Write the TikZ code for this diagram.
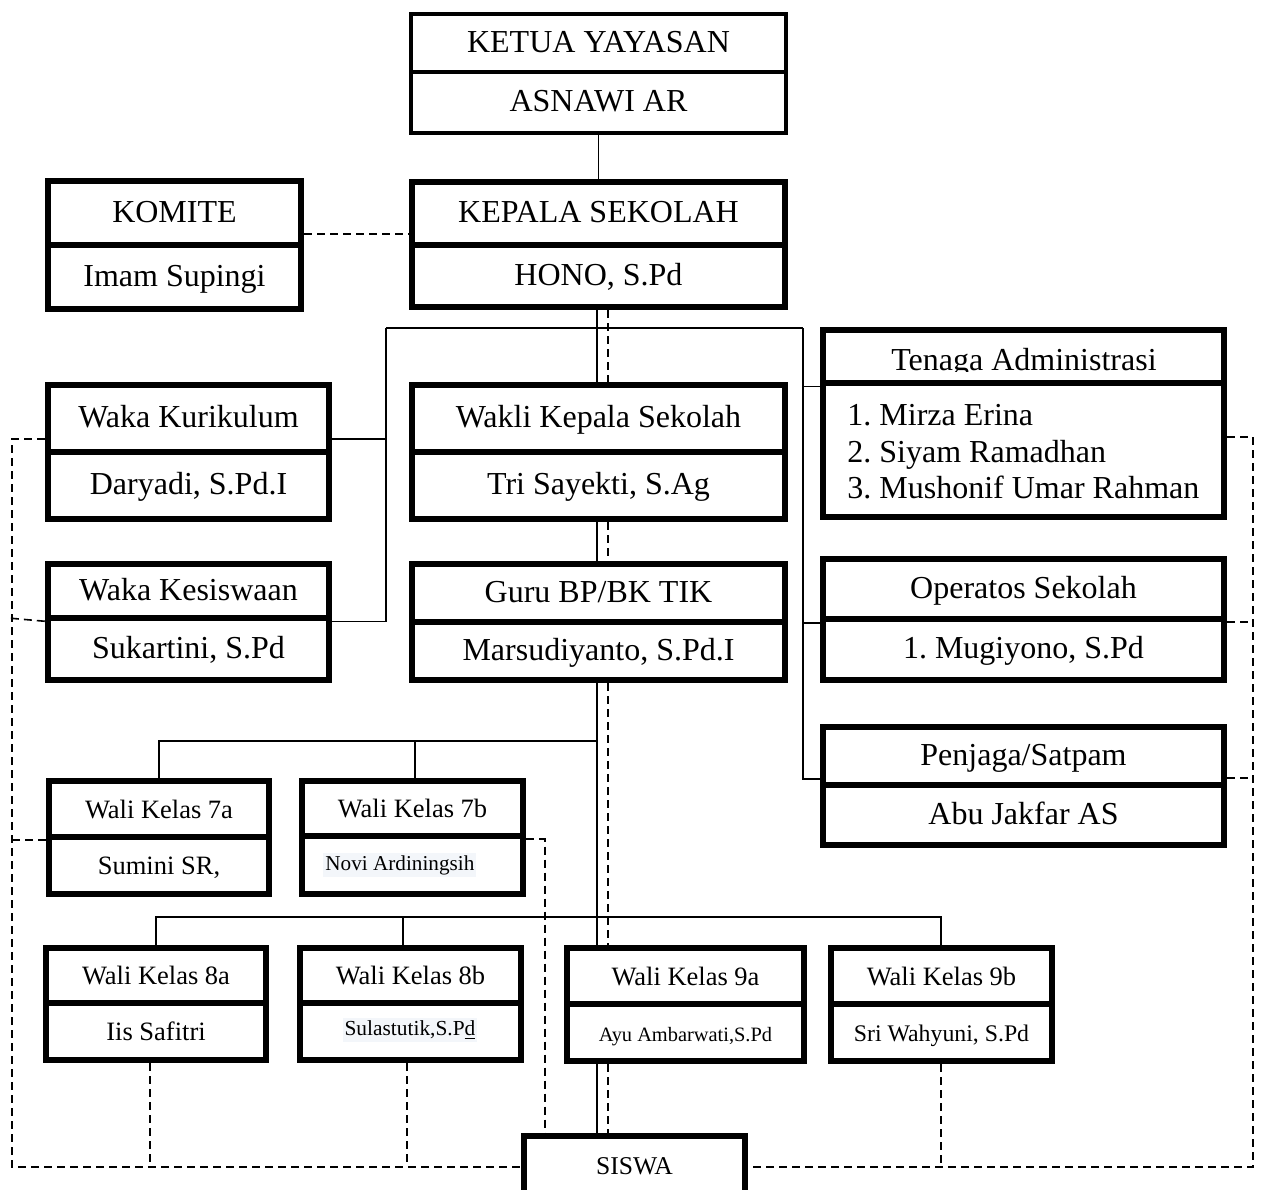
\documentclass[tikz,border=0pt]{standalone}
\usepackage{fontspec}
\setmainfont{Liberation Serif}
\usetikzlibrary{calc}
\frenchspacing
\newcommand\fsz[1]{\fontsize{#1}{#1}\selectfont}
\newcommand\mkcell[7]{%
  \node[#1, minimum width={(#5-#3)*0.5pt}, minimum height={(#6-#4)*0.5pt}] (#2) at ({(#3+#5)/2},{(#4+#6)/2}) {#7};}
\definecolor{hl}{HTML}{F3F6FA}
\begin{document}
\begin{tikzpicture}[x=0.5pt,y=-0.5pt,
  cell/.style={draw, line width=3.25pt, inner sep=0pt, text height=1.0em, text depth=0.1em, font=\fsz{16}, align=center},
  thincell/.style={cell, line width=2pt},
  wcell/.style={cell, font=\fsz{13.25}},
  link/.style={line width=0.65pt},
  dlink/.style={line width=0.8pt, dash pattern=on 4pt off 2.5pt},
]
\clip (0,0) rectangle (1261,1189);
\fill[white] (0,0) rectangle (1261,1189);

% top
\mkcell{thincell}{ketuaT}{411}{14}{786}{72}{KETUA YAYASAN}
\mkcell{thincell}{ketuaN}{411}{72}{786}{133}{ASNAWI AR}
\mkcell{cell}{kepalaT}{412}{182}{785}{245}{KEPALA SEKOLAH}
\mkcell{cell}{kepalaN}{412}{245}{785}{307}{HONO, S.Pd}
\mkcell{cell}{komiteT}{48}{181}{301}{245}{KOMITE}
\mkcell{cell}{komiteN}{48}{245}{301}{309}{Imam Supingi}

% middle
\mkcell{cell}{kurT}{48}{385}{329}{452}{Waka Kurikulum}
\mkcell{cell}{kurN}{48}{452}{329}{519}{Daryadi, S.Pd.I}
\mkcell{cell}{kesT}{48}{564}{329}{618}{Waka Kesiswaan}
\mkcell{cell}{kesN}{48}{618}{329}{680}{Sukartini, S.Pd}
\mkcell{cell}{wakT}{412}{385}{785}{452}{Wakli Kepala Sekolah}
\mkcell{cell}{wakN}{412}{452}{785}{519}{Tri Sayekti, S.Ag}
\mkcell{cell}{guruT}{412}{564}{785}{622}{Guru BP/BK TIK}
\mkcell{cell}{guruN}{412}{622}{785}{680}{Marsudiyanto, S.Pd.I}

% right column
\mkcell{cell}{tenT}{823}{330}{1224}{383}{}
\mkcell{cell}{tenN}{823}{383}{1224}{517}{}
\begin{scope}
  \clip (823,330) rectangle (1224,371);
  \node[font=\fsz{16}, anchor=base, inner sep=0pt] (tentxt) at (1024,370) {Tenaga Administrasi};
\end{scope}
\node[font=\fsz{16}, anchor=base west, inner sep=0pt] (ta1) at (847,425) {1. Mirza Erina};
\node[font=\fsz{16}, anchor=base west, inner sep=0pt] (ta2) at (847,462) {2. Siyam Ramadhan};
\node[font=\fsz{16}, anchor=base west, inner sep=0pt] (ta3) at (847,498) {3. Mushonif Umar Rahman};
\mkcell{cell}{opT}{823}{559}{1224}{619}{Operatos Sekolah}
\mkcell{cell}{opN}{823}{619}{1224}{680}{1. Mugiyono, S.Pd}
\mkcell{cell}{penT}{823}{727}{1224}{785}{Penjaga/Satpam}
\mkcell{cell}{penN}{823}{785}{1224}{845}{Abu Jakfar AS}

% wali kelas
\mkcell{wcell}{w7aT}{49}{781}{269}{837}{Wali Kelas 7a}
\mkcell{wcell}{w7aN}{49}{837}{269}{894}{Sumini SR,}
\mkcell{wcell}{w7bT}{302}{781}{523}{836}{Wali Kelas 7b}
\mkcell{wcell}{w7bN}{302}{836}{523}{894}{}
\node[fill=hl, inner sep=1pt, font=\fsz{10.6}, anchor=west] (novi) at (323,865) {Novi Ardiningsih};
\mkcell{wcell}{w8aT}{46}{948}{266}{1003}{Wali Kelas 8a}
\mkcell{wcell}{w8aN}{46}{1003}{266}{1060}{Iis Safitri}
\mkcell{wcell}{w8bT}{300}{948}{521}{1003}{Wali Kelas 8b}
\mkcell{wcell}{w8bN}{300}{1003}{521}{1060}{}
\node[fill=hl, inner sep=1pt, font=\fsz{10.7}] (sulas) at (410,1030) {Sulastutik,S.P\underline{d}};
\mkcell{wcell}{w9aT}{567}{948}{804}{1004}{Wali Kelas 9a}
\mkcell{wcell}{w9aN}{567}{1004}{804}{1061}{\fsz{10.2}Ayu Ambarwati,S.Pd}
\mkcell{wcell}{w9bT}{831}{948}{1052}{1004}{Wali Kelas 9b}
\mkcell{wcell}{w9bN}{831}{1004}{1052}{1061}{\fsz{11.9}Sri Wahyuni, S.Pd}
\mkcell{cell}{siswa}{524}{1136}{745}{1194}{\fsz{12.8}SISWA}

% helper coordinates
\coordinate (sp) at (597,0);
\coordinate (dsp) at (608,0);
\coordinate (lbar) at (386,328);
\coordinate (rbar) at (803,328);
\coordinate (ll) at (12,1167);
\coordinate (rl) at (1253,1167);

% solid connectors
\draw[link] (ketuaN.south) -- (kepalaT.north);
\draw[link] (kepalaN.south -| sp) -- (wakT.north -| sp);
\draw[link] (wakN.south -| sp) -- (guruT.north -| sp);
\draw[link] (guruN.south -| sp) -- (w9aT.north -| sp);
\draw[link] (w9aN.south -| sp) -- (siswa.north -| sp);
\draw[link] (lbar) -- (rbar);
\draw[link] (lbar) |- (kesT.south east);
\draw[link] (kurT.east |- 0,439) -- (lbar |- 0,439);
\draw[link] (rbar) |- (penT.west |- 0,779);
\draw[link] (rbar |- tenT.south west) -- (tenT.south west);
\draw[link] (rbar |- 0,623) -- (opN.west |- 0,623);
\draw[link] (sp |- 0,741) -| (w7aT.north);
\draw[link] (415,741) -- (w7bT.north -| 415,0);
\draw[link] (w8aT.north) |- (941,917) -- (w9bT.north -| 941,0);
\draw[link] (403,917) -- (w8bT.north -| 403,0);

% dashed connectors
\draw[dlink] (kepalaN.south -| dsp) -- (wakT.north -| dsp);
\draw[dlink] (wakN.south -| dsp) -- (guruT.north -| dsp);
\draw[dlink] (guruN.south -| dsp) -- (w9aT.north -| dsp);
\draw[dlink] (w9aN.south -| dsp) -- (siswa.north -| dsp);
\draw[dlink] (komiteT.east |- 0,234) -- (kepalaT.west |- 0,234);
\draw[dlink] (kurT.west |- 0,439) -| (ll) -- (siswa.west |- ll);
\draw[dlink] (kesT.south west) -- (8,618);
\draw[dlink] (w7aT.south west) -- (w7aT.south west -| ll);
\draw[dlink] (w8aN.south -| 150,0) -- (150,1167);
\draw[dlink] (w8bN.south -| 407,0) -- (407,1167);
\draw[dlink] (w7bT.south east) -| (siswa.north -| 545,0);
\draw[dlink] (tenN.east |- 0,437) -| (rl) -- (siswa.east |- rl);
\draw[dlink] (opN.east |- 0,622) -- (rl |- 0,622);
\draw[dlink] (penT.east |- 0,778) -- (rl |- 0,778);
\draw[dlink] (w9bN.south -| 941,0) -- (941,1167);
\end{tikzpicture}
\end{document}
